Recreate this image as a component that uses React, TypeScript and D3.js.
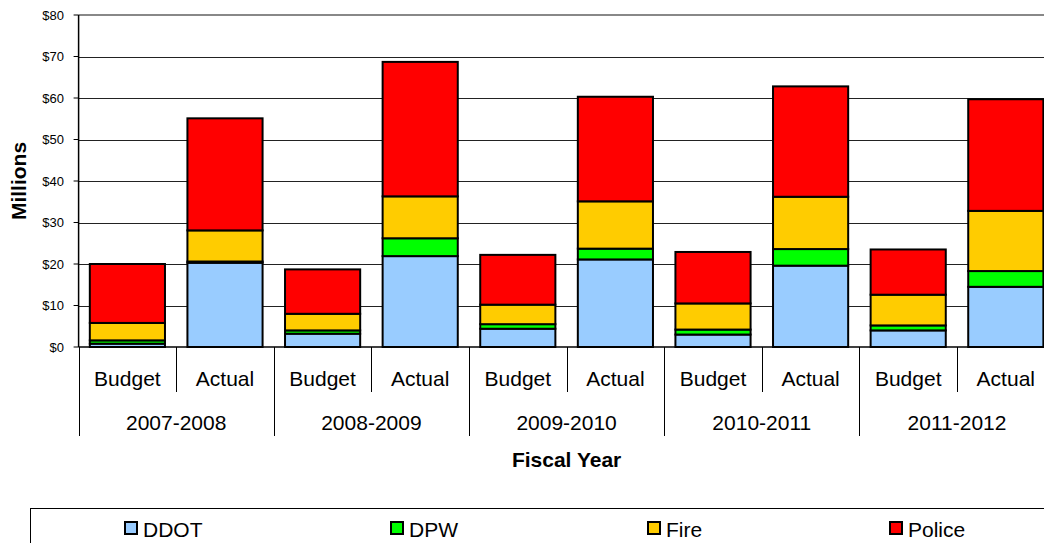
import React from "react";
import * as d3 from "d3";

const years = ["2007-2008", "2008-2009", "2009-2010", "2010-2011", "2011-2012"];
const kinds = ["Budget", "Actual"];
const seriesNames = ["DDOT", "DPW", "Fire", "Police"];
const seriesColors = ["#99CCFF", "#00FF00", "#FFCC00", "#FF0000"];

const ddot = [0.8, 20.3, 3.2, 21.9, 4.4, 21.1, 3.0, 19.6, 4.0, 14.5];
const dpw = [0.8, 0.3, 0.8, 4.3, 1.1, 2.6, 1.2, 4.0, 1.2, 3.8];
const fire = [4.2, 7.5, 4.0, 10.1, 4.7, 11.4, 6.3, 12.6, 7.4, 14.5];
const police = [14.2, 27.0, 10.7, 32.4, 12.0, 25.2, 12.4, 26.6, 10.9, 26.9];

const yTicks = [0, 10, 20, 30, 40, 50, 60, 70, 80];

const W = 1044;
const H = 543;
const FONT = "'Liberation Sans', Arial, sans-serif";
const plot = { left: 78.6, right: 1054.6, top: 15, bottom: 347 };
const legendItemX = [124, 390, 647, 889];

export default function App() {
  const cats: { year: string; kind: string; i: number }[] = [];
  years.forEach((y, yi) =>
    kinds.forEach((k, ki) => cats.push({ year: y, kind: k, i: yi * kinds.length + ki }))
  );
  const rows = cats.map((c) => ({
    key: String(c.i),
    DDOT: ddot[c.i],
    DPW: dpw[c.i],
    Fire: fire[c.i],
    Police: police[c.i],
  }));
  const stack = d3.stack<any>().keys(seriesNames)(rows);

  const x = d3
    .scaleBand<string>()
    .domain(rows.map((r) => r.key))
    .range([plot.left, plot.right])
    .paddingInner(0.23)
    .paddingOuter(0.115);
  const xCat = d3
    .scaleBand<string>()
    .domain(rows.map((r) => r.key))
    .range([plot.left, plot.right])
    .padding(0);
  const y = d3.scaleLinear().domain([0, 80]).range([plot.bottom, plot.top]);

  const step = xCat.step();

  return (
    <svg
      width={W}
      height={H}
      style={{ position: "absolute", left: 0, top: 0, background: "#fff" }}
      fontFamily={FONT}
    >
      {/* gridlines */}
      {yTicks.slice(1, -1).map((t) => (
        <line
          key={"g" + t}
          x1={plot.left}
          x2={W}
          y1={Math.round(y(t)) + 0.5}
          y2={Math.round(y(t)) + 0.5}
          stroke="#222"
          strokeWidth={1}
        />
      ))}
      <line x1={plot.left} x2={W} y1={y(80)} y2={y(80)} stroke="#888" strokeWidth={2} />

      {/* bars */}
      {stack.map((s, si) =>
        s.map((d, i) => (
          <rect
            key={si + "-" + i}
            x={x(rows[i].key)}
            y={y(d[1])}
            width={x.bandwidth()}
            height={Math.max(0, y(d[0]) - y(d[1]))}
            fill={seriesColors[si]}
            stroke="#000"
            strokeWidth={2}
          />
        ))
      )}

      {/* y axis */}
      <line x1={plot.left} x2={plot.left} y1={plot.top} y2={plot.bottom} stroke="#000" strokeWidth={1.5} />
      {yTicks.map((t) => (
        <g key={"t" + t}>
          <line x1={plot.left - 5} x2={plot.left} y1={y(t)} y2={y(t)} stroke="#000" strokeWidth={1} />
          <text
            x={64}
            y={y(t)}
            textAnchor="end"
            dominantBaseline="central"
            fontSize={13}
            fill="#000"
          >
            {"$" + t}
          </text>
        </g>
      ))}
      <text
        transform={`translate(18,${(plot.top + plot.bottom) / 2}) rotate(-90)`}
        textAnchor="middle"
        dominantBaseline="central"
        fontSize={21}
        fontWeight="bold"
      >
        Millions
      </text>

      {/* x axis */}
      <line x1={plot.left} x2={W} y1={plot.bottom} y2={plot.bottom} stroke="#000" strokeWidth={1.5} />
      {cats.map((c) => {
        const x0 = xCat(String(c.i))!;
        const isYearStart = c.i % kinds.length === 0;
        return (
          <g key={"c" + c.i}>
            <line
              x1={Math.round(x0) + 0.5}
              x2={Math.round(x0) + 0.5}
              y1={plot.bottom}
              y2={isYearStart ? 436 : 392}
              stroke="#000"
              strokeWidth={1}
            />
            <text
              x={x0 + step / 2}
              y={378}
              textAnchor="middle"
              dominantBaseline="central"
              fontSize={21}
            >
              {c.kind}
            </text>
          </g>
        );
      })}
      {years.map((yr, yi) => {
        const x0 = xCat(String(yi * kinds.length))!;
        return (
          <text
            key={yr}
            x={x0 + step}
            y={422}
            textAnchor="middle"
            dominantBaseline="central"
            fontSize={21}
          >
            {yr}
          </text>
        );
      })}
      <text
        x={(plot.left + plot.right) / 2}
        y={459}
        textAnchor="middle"
        dominantBaseline="central"
        fontSize={21}
        fontWeight="bold"
      >
        Fiscal Year
      </text>

      {/* legend */}
      <rect x={30.5} y={508.5} width={1100} height={100} fill="none" stroke="#000" strokeWidth={1} />
      {seriesNames.map((n, i) => (
        <g key={n}>
          <rect
            x={legendItemX[i] + 1}
            y={522}
            width={12}
            height={12}
            fill={seriesColors[i]}
            stroke="#000"
            strokeWidth={2}
          />
          <text x={legendItemX[i] + 19} y={529} dominantBaseline="central" fontSize={21}>
            {n}
          </text>
        </g>
      ))}
    </svg>
  );
}
